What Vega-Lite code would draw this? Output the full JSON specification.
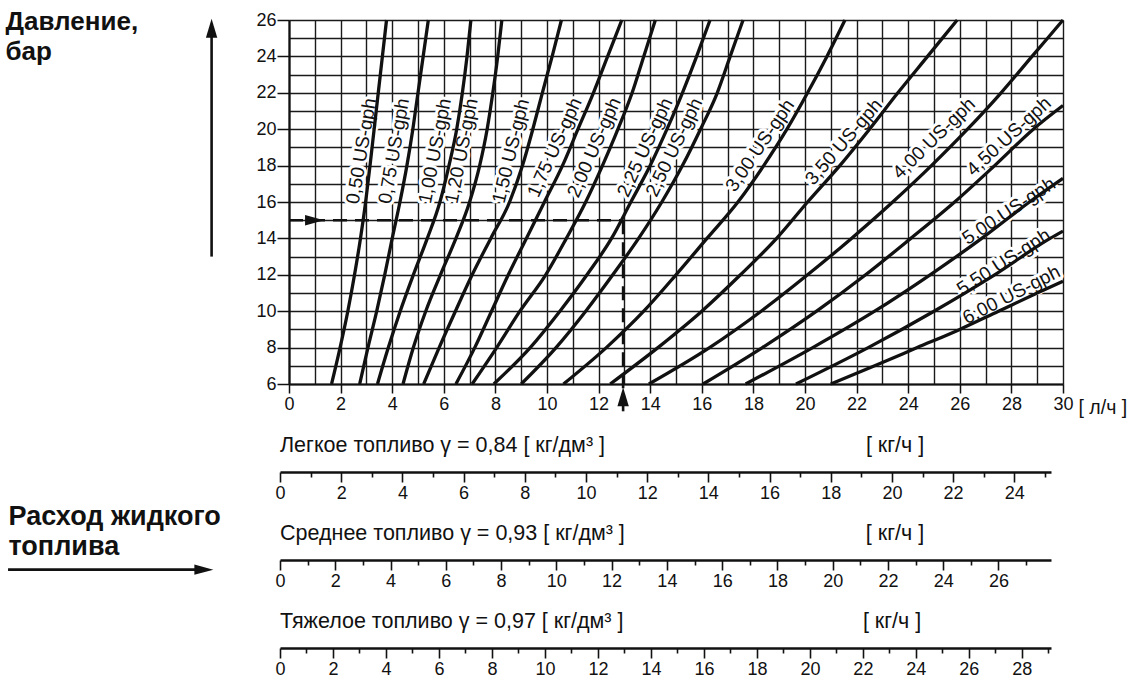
{
  "$schema": "https://vega.github.io/schema/vega-lite/v6.json",
  "background": "white",
  "padding": {"left": 5, "top": 8, "right": 4, "bottom": 2},
  "bounds": "flush",
  "spacing": 36,
  "config": {
    "view": {"stroke": null},
    "font": "Liberation Sans",
    "axis": {"labelFont": "Liberation Sans", "titleFont": "Liberation Sans", "labelColor": "#111", "titleColor": "#111"}
  },
  "datasets": {
    "curves": [
      {"n":"0,50","q":1.65,"p":6},{"n":"0,50","q":1.98,"p":8},{"n":"0,50","q":2.28,"p":10},{"n":"0,50","q":2.54,"p":12},{"n":"0,50","q":2.77,"p":14},{"n":"0,50","q":2.97,"p":16},{"n":"0,50","q":3.14,"p":18},{"n":"0,50","q":3.3,"p":20},{"n":"0,50","q":3.46,"p":22},{"n":"0,50","q":3.62,"p":24},{"n":"0,50","q":3.78,"p":26},
      {"n":"0,75","q":2.74,"p":6},{"n":"0,75","q":3.06,"p":8},{"n":"0,75","q":3.4,"p":10},{"n":"0,75","q":3.71,"p":12},{"n":"0,75","q":4.0,"p":14},{"n":"0,75","q":4.3,"p":16},{"n":"0,75","q":4.57,"p":18},{"n":"0,75","q":4.8,"p":20},{"n":"0,75","q":5.0,"p":22},{"n":"0,75","q":5.2,"p":24},{"n":"0,75","q":5.4,"p":26},
      {"n":"1,00","q":3.43,"p":6},{"n":"1,00","q":3.85,"p":8},{"n":"1,00","q":4.31,"p":10},{"n":"1,00","q":4.82,"p":12},{"n":"1,00","q":5.36,"p":14},{"n":"1,00","q":5.85,"p":16},{"n":"1,00","q":6.2,"p":18},{"n":"1,00","q":6.5,"p":20},{"n":"1,00","q":6.72,"p":22},{"n":"1,00","q":6.9,"p":24},{"n":"1,00","q":7.05,"p":26},
      {"n":"1,20","q":4.42,"p":6},{"n":"1,20","q":4.82,"p":8},{"n":"1,20","q":5.3,"p":10},{"n":"1,20","q":5.87,"p":12},{"n":"1,20","q":6.47,"p":14},{"n":"1,20","q":7.0,"p":16},{"n":"1,20","q":7.39,"p":18},{"n":"1,20","q":7.68,"p":20},{"n":"1,20","q":7.9,"p":22},{"n":"1,20","q":8.09,"p":24},{"n":"1,20","q":8.25,"p":26},
      {"n":"1,50","q":5.22,"p":6},{"n":"1,50","q":5.82,"p":8},{"n":"1,50","q":6.45,"p":10},{"n":"1,50","q":7.1,"p":12},{"n":"1,50","q":7.82,"p":14},{"n":"1,50","q":8.55,"p":16},{"n":"1,50","q":9.05,"p":18},{"n":"1,50","q":9.45,"p":20},{"n":"1,50","q":9.82,"p":22},{"n":"1,50","q":10.2,"p":24},{"n":"1,50","q":10.56,"p":26},
      {"n":"1,75","q":6.47,"p":6},{"n":"1,75","q":7.2,"p":8},{"n":"1,75","q":7.85,"p":10},{"n":"1,75","q":8.5,"p":12},{"n":"1,75","q":9.2,"p":14},{"n":"1,75","q":9.9,"p":16},{"n":"1,75","q":10.6,"p":18},{"n":"1,75","q":11.2,"p":20},{"n":"1,75","q":11.8,"p":22},{"n":"1,75","q":12.35,"p":24},{"n":"1,75","q":12.9,"p":26},
      {"n":"2,00","q":7.1,"p":6},{"n":"2,00","q":8.05,"p":8},{"n":"2,00","q":8.95,"p":10},{"n":"2,00","q":9.95,"p":12},{"n":"2,00","q":10.75,"p":14},{"n":"2,00","q":11.5,"p":16},{"n":"2,00","q":12.15,"p":18},{"n":"2,00","q":12.75,"p":20},{"n":"2,00","q":13.3,"p":22},{"n":"2,00","q":13.75,"p":24},{"n":"2,00","q":14.2,"p":26},
      {"n":"2,25","q":7.94,"p":6},{"n":"2,25","q":9.35,"p":8},{"n":"2,25","q":10.5,"p":10},{"n":"2,25","q":11.55,"p":12},{"n":"2,25","q":12.5,"p":14},{"n":"2,25","q":13.25,"p":16},{"n":"2,25","q":14.0,"p":18},{"n":"2,25","q":14.65,"p":20},{"n":"2,25","q":15.25,"p":22},{"n":"2,25","q":15.8,"p":24},{"n":"2,25","q":16.32,"p":26},
      {"n":"2,50","q":9.0,"p":6},{"n":"2,50","q":10.35,"p":8},{"n":"2,50","q":11.5,"p":10},{"n":"2,50","q":12.55,"p":12},{"n":"2,50","q":13.55,"p":14},{"n":"2,50","q":14.45,"p":16},{"n":"2,50","q":15.25,"p":18},{"n":"2,50","q":15.95,"p":20},{"n":"2,50","q":16.6,"p":22},{"n":"2,50","q":17.1,"p":24},{"n":"2,50","q":17.6,"p":26},
      {"n":"3,00","q":10.64,"p":6},{"n":"3,00","q":12.3,"p":8},{"n":"3,00","q":13.75,"p":10},{"n":"3,00","q":15.0,"p":12},{"n":"3,00","q":16.2,"p":14},{"n":"3,00","q":17.4,"p":16},{"n":"3,00","q":18.4,"p":18},{"n":"3,00","q":19.3,"p":20},{"n":"3,00","q":20.1,"p":22},{"n":"3,00","q":20.85,"p":24},{"n":"3,00","q":21.55,"p":26},
      {"n":"3,50","q":12.45,"p":6},{"n":"3,50","q":14.3,"p":8},{"n":"3,50","q":16.0,"p":10},{"n":"3,50","q":17.5,"p":12},{"n":"3,50","q":18.9,"p":14},{"n":"3,50","q":20.1,"p":16},{"n":"3,50","q":21.35,"p":18},{"n":"3,50","q":22.5,"p":20},{"n":"3,50","q":23.6,"p":22},{"n":"3,50","q":24.75,"p":24},{"n":"3,50","q":25.9,"p":26},
      {"n":"4,00","q":13.95,"p":6},{"n":"4,00","q":16.3,"p":8},{"n":"4,00","q":18.3,"p":10},{"n":"4,00","q":20.1,"p":12},{"n":"4,00","q":21.8,"p":14},{"n":"4,00","q":23.4,"p":16},{"n":"4,00","q":24.9,"p":18},{"n":"4,00","q":26.3,"p":20},{"n":"4,00","q":27.6,"p":22},{"n":"4,00","q":28.8,"p":24},{"n":"4,00","q":30.0,"p":26},
      {"n":"4,50","q":16.05,"p":6},{"n":"4,50","q":18.35,"p":8},{"n":"4,50","q":20.45,"p":10},{"n":"4,50","q":22.35,"p":12},{"n":"4,50","q":24.1,"p":14},{"n":"4,50","q":25.8,"p":16},{"n":"4,50","q":27.35,"p":18},{"n":"4,50","q":28.85,"p":20},{"n":"4,50","q":30.0,"p":21.3},
      {"n":"5,00","q":17.7,"p":6},{"n":"5,00","q":20.3,"p":8},{"n":"5,00","q":22.7,"p":10},{"n":"5,00","q":24.85,"p":12},{"n":"5,00","q":26.85,"p":14},{"n":"5,00","q":28.7,"p":16},{"n":"5,00","q":30.0,"p":17.3},
      {"n":"5,50","q":19.65,"p":6},{"n":"5,50","q":22.45,"p":8},{"n":"5,50","q":25.0,"p":10},{"n":"5,50","q":27.35,"p":12},{"n":"5,50","q":29.5,"p":14},{"n":"5,50","q":30.0,"p":14.4},
      {"n":"6,00","q":21.0,"p":6},{"n":"6,00","q":22.7,"p":7},{"n":"6,00","q":24.35,"p":8},{"n":"6,00","q":26.0,"p":9},{"n":"6,00","q":27.5,"p":10},{"n":"6,00","q":29.0,"p":11},{"n":"6,00","q":30.0,"p":11.65}
    ],
    "labels": [
      {"label":"0,50 US-gph","q":2.81,"p":18.8},
      {"label":"0,75 US-gph","q":4.07,"p":18.8},
      {"label":"1,00 US-gph","q":5.66,"p":18.8},
      {"label":"1,20 US-gph","q":6.69,"p":18.8},
      {"label":"1,50 US-gph","q":8.6,"p":18.8},
      {"label":"1,75 US-gph","q":10.3,"p":19.0},
      {"label":"2,00 US-gph","q":11.83,"p":19.0},
      {"label":"2,25 US-gph","q":13.8,"p":19.0},
      {"label":"2,50 US-gph","q":14.93,"p":19.0},
      {"label":"3,00 US-gph","q":18.26,"p":19.1},
      {"label":"3,50 US-gph","q":21.5,"p":19.3},
      {"label":"4,00 US-gph","q":25.0,"p":19.5},
      {"label":"4,50 US-gph","q":27.9,"p":19.6},
      {"label":"5,00 US-gph","q":27.9,"p":15.5},
      {"label":"5,50 US-gph","q":27.7,"p":12.7},
      {"label":"6,00 US-gph","q":28.0,"p":10.9}
    ],
    "example": [
      {"q":0,"q2":12.95,"p":15,"p2":15},
      {"q":12.95,"q2":12.95,"p":15,"p2":5.0}
    ],
    "decor": [
      {"q":-3.0,"q2":-3.0,"p":13.0,"p2":25.3},
      {"q":-10.89,"q2":-3.6,"p":-4.2,"p2":-4.2},
      {"q":12.95,"q2":12.95,"p":4.9,"p2":4.5}
    ],
    "heads": [
      {"q":0.99,"p":15,"dir":"right"},
      {"q":12.95,"p":5.3,"dir":"up"},
      {"q":-3.0,"p":25.55,"dir":"up"},
      {"q":-3.3,"p":-4.2,"dir":"right"}
    ],
    "light": [
      {"t":"Легкое топливо γ = 0,84 [ кг/дм³ ]","kg":0},
      {"t":"[ кг/ч ]","kg":19.15}
    ],
    "medium": [
      {"t":"Среднее топливо γ = 0,93 [ кг/дм³ ]","kg":0},
      {"t":"[ кг/ч ]","kg":21.2}
    ],
    "heavy": [
      {"t":"Тяжелое топливо γ = 0,97 [ кг/дм³ ]","kg":0},
      {"t":"[ кг/ч ]","kg":22.0}
    ]
  },
  "vconcat": [
    {
      "width": 774,
      "height": 364,
      "encoding": {
        "x": {
          "field": "q", "type": "quantitative",
          "scale": {"domain": [0, 30], "nice": false, "zero": false},
          "axis": {
            "values": [0,1,2,3,4,5,6,7,8,9,10,11,12,13,14,15,16,17,18,19,20,21,22,23,24,25,26,27,28,29,30],
            "grid": true, "gridColor": "#1a1a1a", "gridWidth": 1.4, "gridOpacity": 1,
            "domainColor": "#111", "domainWidth": 2.2,
            "tickColor": "#111", "tickWidth": 1.5,
            "tickSize": {"condition": {"test": "datum.value % 2 !== 0", "value": 0}, "value": 9},
            "labelExpr": "datum.value % 2 === 0 ? datum.label : ''",
            "labelFontSize": 18, "labelPadding": 2, "labelFlush": false, "labelOverlap": false, "labelBound": false,
            "title": "[ л/ч ]", "titleX": 789, "titleY": 23, "titleAlign": "left", "titleBaseline": "middle",
            "titleFontSize": 19.5, "titleFontWeight": "normal"
          }
        },
        "y": {
          "field": "p", "type": "quantitative",
          "scale": {"domain": [6, 26], "nice": false, "zero": false},
          "axis": {
            "values": [6,7,8,9,10,11,12,13,14,15,16,17,18,19,20,21,22,23,24,25,26],
            "grid": true, "gridColor": "#1a1a1a", "gridWidth": 1.4, "gridOpacity": 1,
            "domainColor": "#111", "domainWidth": 2.2,
            "tickColor": "#111", "tickWidth": 1.5,
            "tickSize": {"condition": {"test": "datum.value % 2 !== 0", "value": 0}, "value": 12},
            "labelExpr": "datum.value % 2 === 0 ? datum.label : ''",
            "labelFontSize": 18, "labelPadding": 1, "labelFlush": false, "labelOverlap": false, "labelBound": false,
            "title": ["Давление,", "бар"], "titleAngle": 0, "titleAlign": "left", "titleBaseline": "top",
            "titleX": -284, "titleY": -12, "titleFontSize": 26, "titleFontWeight": "bold", "titleLineHeight": 30
          }
        }
      },
      "layer": [
        {
          "data": {"name": "labels"},
          "mark": {"type": "text", "fontSize": 19, "align": "center", "baseline": "middle", "fill": "white", "stroke": "white", "strokeWidth": 6, "strokeJoin": "round"},
          "encoding": {
            "text": {"field": "label"},
            "angle": {"condition": [
              {"test": "datum.label === '0,50 US-gph'", "value": 279.5},
              {"test": "datum.label === '0,75 US-gph'", "value": 280},
              {"test": "datum.label === '1,00 US-gph'", "value": 281},
              {"test": "datum.label === '1,20 US-gph'", "value": 281},
              {"test": "datum.label === '1,50 US-gph'", "value": 283.6},
              {"test": "datum.label === '1,75 US-gph'", "value": 294.4},
              {"test": "datum.label === '2,00 US-gph'", "value": 293.7},
              {"test": "datum.label === '2,25 US-gph'", "value": 295},
              {"test": "datum.label === '2,50 US-gph'", "value": 295.7},
              {"test": "datum.label === '3,00 US-gph'", "value": 304.2},
              {"test": "datum.label === '3,50 US-gph'", "value": 310.7},
              {"test": "datum.label === '4,00 US-gph'", "value": 315.6},
              {"test": "datum.label === '4,50 US-gph'", "value": 317.5},
              {"test": "datum.label === '5,00 US-gph'", "value": 326.8},
              {"test": "datum.label === '5,50 US-gph'", "value": 327.3}
            ], "value": 332.7}
          }
        },
        {
          "data": {"name": "curves"},
          "mark": {"type": "line", "color": "#111", "strokeWidth": 3.3, "interpolate": "monotone"},
          "encoding": {"detail": {"field": "n"}}
        },
        {
          "data": {"name": "example"},
          "mark": {"type": "rule", "color": "#111", "strokeWidth": 2.6, "strokeDash": [14, 8]},
          "encoding": {"x2": {"field": "q2"}, "y2": {"field": "p2"}}
        },
        {
          "data": {"name": "decor"},
          "mark": {"type": "rule", "color": "#111", "strokeWidth": 2.6},
          "encoding": {"x2": {"field": "q2"}, "y2": {"field": "p2"}}
        },
        {
          "data": {"name": "heads"},
          "mark": {"type": "point", "filled": true, "color": "#111", "opacity": 1, "size": 360, "strokeWidth": 0},
          "encoding": {
            "shape": {"field": "dir", "type": "nominal", "legend": null,
              "scale": {"domain": ["up", "right"], "range": ["M-0.6,1L0,-1L0.6,1Z", "M-1,-0.55L1,0L-1,0.55Z"]}}
          }
        },
        {
          "data": {"name": "labels"},
          "mark": {"type": "text", "fontSize": 19, "align": "center", "baseline": "middle", "color": "#111"},
          "encoding": {
            "text": {"field": "label"},
            "angle": {"condition": [
              {"test": "datum.label === '0,50 US-gph'", "value": 279.5},
              {"test": "datum.label === '0,75 US-gph'", "value": 280},
              {"test": "datum.label === '1,00 US-gph'", "value": 281},
              {"test": "datum.label === '1,20 US-gph'", "value": 281},
              {"test": "datum.label === '1,50 US-gph'", "value": 283.6},
              {"test": "datum.label === '1,75 US-gph'", "value": 294.4},
              {"test": "datum.label === '2,00 US-gph'", "value": 293.7},
              {"test": "datum.label === '2,25 US-gph'", "value": 295},
              {"test": "datum.label === '2,50 US-gph'", "value": 295.7},
              {"test": "datum.label === '3,00 US-gph'", "value": 304.2},
              {"test": "datum.label === '3,50 US-gph'", "value": 310.7},
              {"test": "datum.label === '4,00 US-gph'", "value": 315.6},
              {"test": "datum.label === '4,50 US-gph'", "value": 317.5},
              {"test": "datum.label === '5,00 US-gph'", "value": 326.8},
              {"test": "datum.label === '5,50 US-gph'", "value": 327.3}
            ], "value": 332.7}
          }
        }
      ]
    },
    {
      "width": 774,
      "height": 52,
      "data": {"name": "light"},
      "mark": {"type": "text", "align": "left", "baseline": "middle", "fontSize": 21.5, "color": "#111"},
      "encoding": {
        "x": {
          "field": "kg", "type": "quantitative",
          "scale": {"domain": [0, 25.2], "range": [-9, 762], "nice": false, "zero": false},
          "axis": {
            "values": [0,1,2,3,4,5,6,7,8,9,10,11,12,13,14,15,16,17,18,19,20,21,22,23,24,25],
            "grid": false, "domainColor": "#111", "domainWidth": 2.5,
            "tickColor": "#111", "tickWidth": 1.6,
            "tickSize": {"condition": {"test": "datum.value % 2 !== 0", "value": 5}, "value": 10},
            "labelExpr": "datum.value % 2 === 0 ? datum.label : ''",
            "labelFontSize": 18, "labelPadding": 2, "labelFlush": false, "labelOverlap": false, "labelBound": false,
            "title": null
          }
        },
        "text": {"field": "t"}
      }
    },
    {
      "width": 774,
      "height": 52,
      "data": {"name": "medium"},
      "mark": {"type": "text", "align": "left", "baseline": "middle", "fontSize": 21.5, "color": "#111"},
      "encoding": {
        "x": {
          "field": "kg", "type": "quantitative",
          "scale": {"domain": [0, 27.9], "range": [-9, 762], "nice": false, "zero": false},
          "axis": {
            "values": [0,1,2,3,4,5,6,7,8,9,10,11,12,13,14,15,16,17,18,19,20,21,22,23,24,25,26,27],
            "grid": false, "domainColor": "#111", "domainWidth": 2.5,
            "tickColor": "#111", "tickWidth": 1.6,
            "tickSize": {"condition": {"test": "datum.value % 2 !== 0", "value": 5}, "value": 10},
            "labelExpr": "datum.value % 2 === 0 ? datum.label : ''",
            "labelFontSize": 18, "labelPadding": 2, "labelFlush": false, "labelOverlap": false, "labelBound": false,
            "title": ["Расход жидкого", "топлива"], "titleX": -281, "titleY": -57,
            "titleAlign": "left", "titleBaseline": "top", "titleAngle": 0,
            "titleFontSize": 27, "titleFontWeight": "bold", "titleLineHeight": 30
          }
        },
        "text": {"field": "t"}
      }
    },
    {
      "width": 774,
      "height": 52,
      "data": {"name": "heavy"},
      "mark": {"type": "text", "align": "left", "baseline": "middle", "fontSize": 21.5, "color": "#111"},
      "encoding": {
        "x": {
          "field": "kg", "type": "quantitative",
          "scale": {"domain": [0, 29.1], "range": [-9, 762], "nice": false, "zero": false},
          "axis": {
            "values": [0,1,2,3,4,5,6,7,8,9,10,11,12,13,14,15,16,17,18,19,20,21,22,23,24,25,26,27,28,29],
            "grid": false, "domainColor": "#111", "domainWidth": 2.5,
            "tickColor": "#111", "tickWidth": 1.6,
            "tickSize": {"condition": {"test": "datum.value % 2 !== 0", "value": 5}, "value": 10},
            "labelExpr": "datum.value % 2 === 0 ? datum.label : ''",
            "labelFontSize": 18, "labelPadding": 2, "labelFlush": false, "labelOverlap": false, "labelBound": false,
            "title": null
          }
        },
        "text": {"field": "t"}
      }
    }
  ]
}
